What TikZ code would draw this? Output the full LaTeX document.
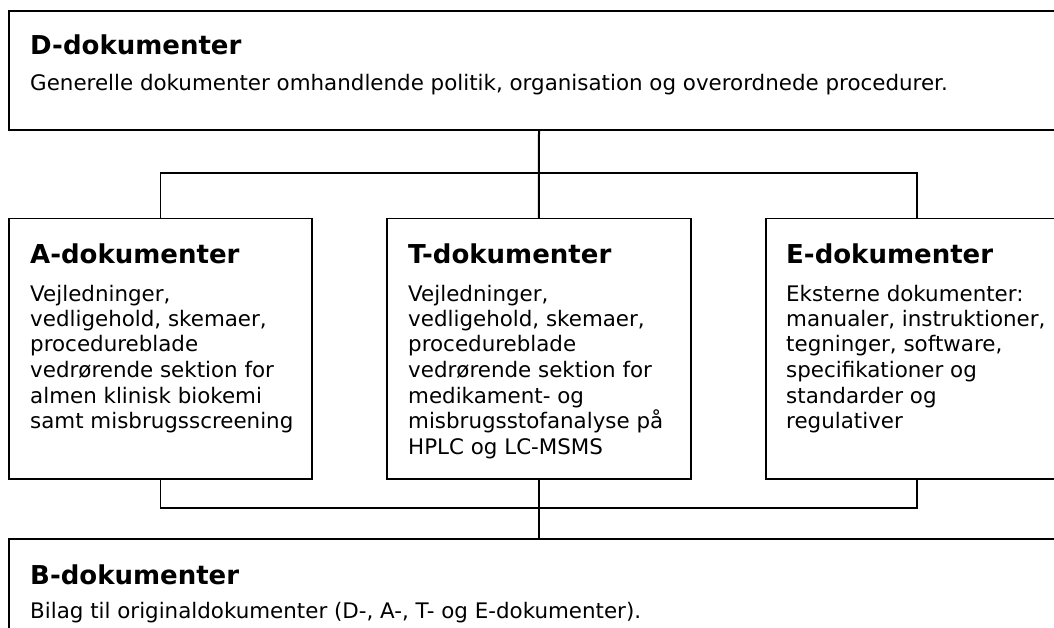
\documentclass[tikz,border=0pt]{standalone}
\usepackage{fontspec}
\setmainfont{DejaVu Sans}
\tikzset{
  docbox/.style={draw=black, line width=1.5pt, rectangle, anchor=north west, inner sep=0pt},
  bigbox/.style={docbox, line width=2pt},
  ttl/.style={anchor=base west, inner sep=0pt, font=\bfseries\fontsize{26}{30}\selectfont},
  bdy/.style={anchor=base west, inner sep=0pt, font=\fontsize{21.4}{25.5}\selectfont},
  conn/.style={draw=black, line width=1.5pt}
}
\begin{document}
\begin{tikzpicture}[x=1pt,y=1pt]
\useasboundingbox (0,0) rectangle (1054,-628);
\clip (0,0) rectangle (1054,-628);
% boxes
\node[bigbox, minimum width=1060pt, minimum height=119pt] (D) at (8,-10) {};
\node[docbox, minimum width=303pt, minimum height=260pt] (A) at (8,-218) {};
\node[docbox, minimum width=304pt, minimum height=260pt] (T) at (386,-218) {};
\node[docbox, minimum width=302pt, minimum height=260pt] (E) at (765,-218) {};
\node[docbox, minimum width=1060pt, minimum height=120pt] (B) at (8,-538) {};
% texts
\node[ttl] (Dt) at ([shift={(22,-45)}]D.north west) {D-dokumenter};
\node[bdy] (Db) at ([shift={(22,-81)}]D.north west) {Generelle dokumenter omhandlende politik, organisation og overordnede procedurer.};
\node[ttl] (At) at ([shift={(22,-45)}]A.north west) {A-dokumenter};
\node[bdy] (Ab) at ([shift={(22,-83)}]A.north west) {\parbox[t]{290pt}{\raggedright Vejledninger,\\ vedligehold, skemaer,\\ procedureblade\\ vedrørende sektion for\\ almen klinisk biokemi\\ samt misbrugsscreening}};
\node[ttl] (Tt) at ([shift={(22,-45)}]T.north west) {T-dokumenter};
\node[bdy] (Tb) at ([shift={(22,-83)}]T.north west) {\parbox[t]{290pt}{\raggedright Vejledninger,\\ vedligehold, skemaer,\\ procedureblade\\ vedrørende sektion for\\ medikament- og\\ misbrugsstofanalyse på\\ HPLC og LC-MSMS}};
\node[ttl] (Et) at ([shift={(21,-45)}]E.north west) {E-dokumenter};
\node[bdy] (Eb) at ([shift={(21,-83)}]E.north west) {\parbox[t]{290pt}{\raggedright Eksterne dokumenter:\\ manualer, instruktioner,\\ tegninger, software,\\ specifikationer og\\ standarder og\\ regulativer}};
\node[ttl] (Bt) at ([shift={(22,-46)}]B.north west) {B-dokumenter};
\node[bdy] (Bb) at ([shift={(22,-80)}]B.north west) {Bilag til originaldokumenter (D-, A-, T- og E-dokumenter).};
% connectors
\coordinate (topbus) at (538,-173);
\coordinate (botbus) at (538,-508);
\draw[conn, line width=2pt] (D.south) -- (T.north);
\draw[conn] (A.north) |- (topbus) -| (E.north);
\draw[conn] (T.south) -- (B.north);
\draw[conn] (A.south) |- (botbus) -| (E.south);
\end{tikzpicture}
\end{document}
